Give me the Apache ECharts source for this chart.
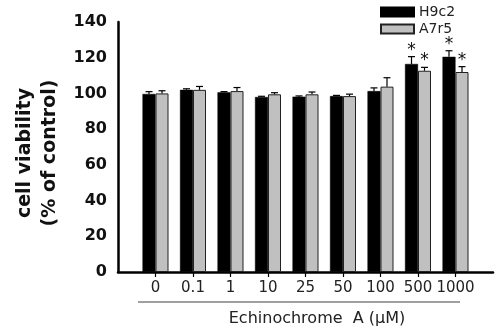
<!DOCTYPE html>
<html><head><meta charset="utf-8">
<script src="https://cdn.jsdelivr.net/npm/echarts@6/dist/echarts.min.js"></script>
<style>html,body{margin:0;padding:0;background:#fff}#c{width:500px;height:332px}</style>
</head><body><div id="c"></div>
<script>
const categories = ['0', '0.1', '1', '10', '25', '50', '100', '500', '1000'];
const h9c2 = [99.7, 102, 100.6, 98, 98.2, 98.5, 101.3, 116.5, 120.5];
const h9c2Err = [1.3, 0.6, 0.4, 0.4, 0.4, 0.4, 1.8, 4.1, 3.4];
const h9c2Sig = [0, 0, 0, 0, 0, 0, 0, 1, 1];
const a7r5 = [100, 102, 101.3, 99.5, 99.5, 98.5, 103.8, 112.7, 112];
const a7r5Err = [1.5, 1.9, 2, 0.9, 1.3, 1.1, 5, 1.9, 3];
const a7r5Sig = [0, 0, 0, 0, 0, 0, 0, 1, 1];
const yTicks = [0, 20, 40, 60, 80, 100, 120, 140];

// pad with empty slots at both ends so the axis extends half a band beyond the groups
const cats = [''].concat(categories, ['']);
const pad = a => [null].concat(a, [null]);
const BW = 13;

function errData(vals, errs, sig) {
  return vals.map((v, i) => [i + 1, v, v + errs[i], sig[i]]);
}
function errRender(offset) {
  return function (params, api) {
    const c = api.coord([api.value(0), api.value(1)]);
    const t = api.coord([api.value(0), api.value(2)]);
    const x = c[0] + offset;
    const children = [
      { type: 'line', shape: { x1: x, y1: c[1], x2: x, y2: t[1] }, style: { stroke: '#000', lineWidth: 1.2 } },
      { type: 'line', shape: { x1: x - 3.5, y1: t[1], x2: x + 3.5, y2: t[1] }, style: { stroke: '#000', lineWidth: 1.2 } }
    ];
    if (api.value(3)) {
      children.push({ type: 'text', style: { text: '*', x: x, y: t[1] + 2, align: 'center', verticalAlign: 'bottom', fontSize: 17, fontFamily: 'DejaVu Sans', fill: '#111' } });
    }
    return { type: 'group', children: children };
  };
}

const chart = echarts.init(document.getElementById('c'), null, { renderer: 'canvas' });
chart.setOption({
  animation: false,
  backgroundColor: '#fff',
  grid: { left: 118, right: 7, top: 22, bottom: 60 },
  legend: {
    orient: 'vertical', left: 380, top: 5, padding: 0, itemWidth: 33, itemHeight: 9, itemGap: 3,
    icon: 'rect',
    textStyle: { fontFamily: 'DejaVu Sans', fontSize: 14, color: '#222' },
    data: ['H9c2', 'A7r5']
  },
  xAxis: {
    type: 'category', data: cats, boundaryGap: false,
    axisLine: { lineStyle: { color: '#000', width: 2.5 } },
    axisTick: { show: true, length: 5, lineStyle: { color: '#000', width: 1.2 }, interval: (i) => i > 0 && i < cats.length - 1 },
    axisLabel: { interval: 0, margin: 9, fontFamily: 'DejaVu Sans', fontSize: 15, color: '#222' }
  },
  yAxis: {
    type: 'value', min: 0, max: 140, interval: 20,
    name: 'cell viability\n(% of control)', nameLocation: 'middle', nameGap: 54, nameRotate: 90,
    nameTextStyle: { fontFamily: 'DejaVu Sans', fontWeight: 'bold', fontSize: 19, lineHeight: 25, color: '#111', padding: [0, 12, 0, 0] },
    axisLine: { show: true, lineStyle: { color: '#000', width: 2.5 } },
    axisTick: { show: false },
    splitLine: { show: false },
    axisLabel: { margin: 11, fontFamily: 'DejaVu Sans', fontWeight: 'bold', fontSize: 16, color: '#111',
      formatter: v => yTicks.indexOf(v) >= 0 ? String(v) : '' }
  },
  graphic: [
    { type: 'line', shape: { x1: 138, y1: 302, x2: 460, y2: 302 }, style: { stroke: '#808080', lineWidth: 1.5 } },
    { type: 'text', x: 317, y: 319, style: { text: 'Echinochrome  A (\u03bcM)', align: 'center', verticalAlign: 'middle', fontFamily: 'DejaVu Sans', fontSize: 16, fill: '#222' } }
  ],
  series: [
    { name: 'H9c2', type: 'bar', data: pad(h9c2), barWidth: BW, barGap: 0,
      itemStyle: { color: '#000', borderColor: '#000', borderWidth: 0.5 } },
    { name: 'A7r5', type: 'bar', data: pad(a7r5), barWidth: BW, barGap: 0,
      itemStyle: { color: '#c0c0c0', borderColor: '#222', borderWidth: 1 } },
    { type: 'custom', data: errData(h9c2, h9c2Err, h9c2Sig), renderItem: errRender(-BW / 2), z: 5,
      encode: { x: 0, y: [1, 2] } },
    { type: 'custom', data: errData(a7r5, a7r5Err, a7r5Sig), renderItem: errRender(BW / 2), z: 5,
      encode: { x: 0, y: [1, 2] } }
  ]
});
</script></body></html>
